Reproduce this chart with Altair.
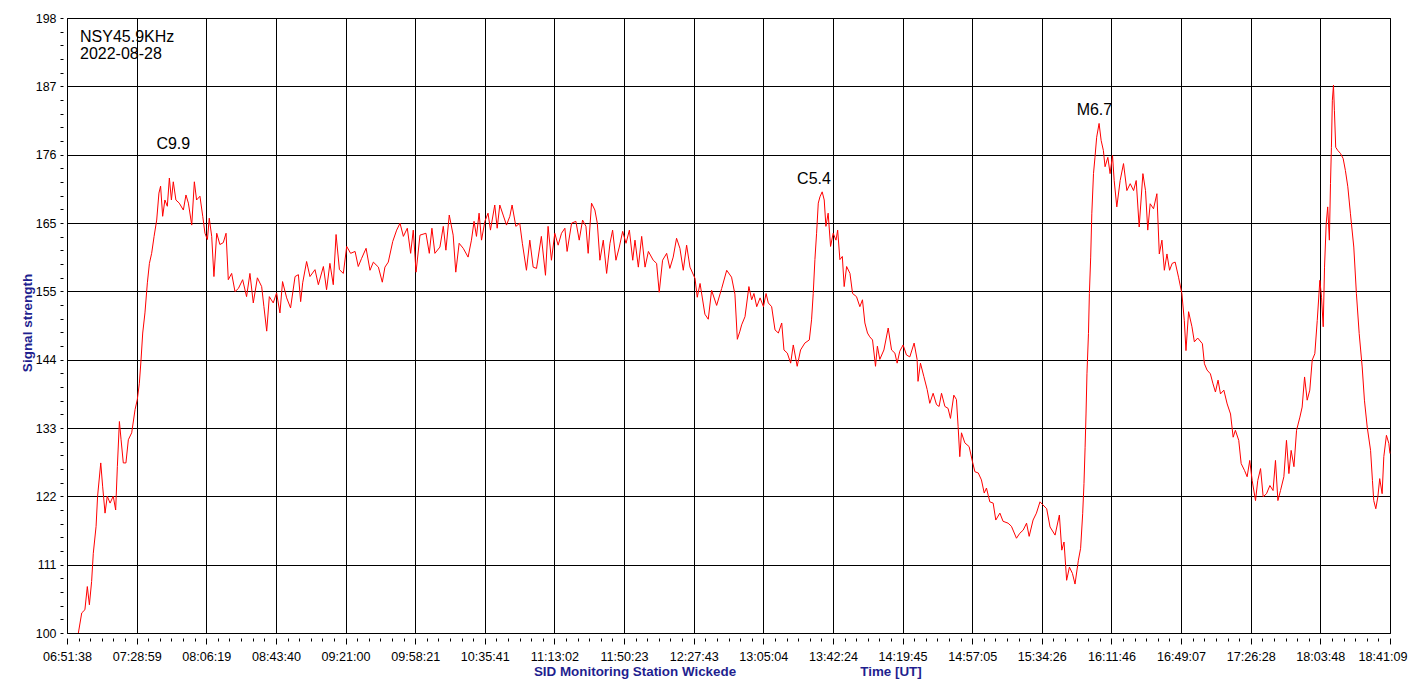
import json
import altair as alt
import pandas as pd

# ---------------- data ----------------
x_labels = ["06:51:38", "07:28:59", "08:06:19", "08:43:40", "09:21:00", "09:58:21",
            "10:35:41", "11:13:02", "11:50:23", "12:27:43", "13:05:04", "13:42:24",
            "14:19:45", "14:57:05", "15:34:26", "16:11:46", "16:49:07", "17:26:28",
            "18:03:48", "18:41:09"]
y_labels = ["100", "111", "122", "133", "144", "155", "165", "176", "187", "198"]
y_min, y_max = 100, 198

# minutes after 06:51:38 and signal strength
minutes = [
    6.1, 7.9, 9.6, 10.9, 12.0, 13.2, 14.1, 15.6, 16.4, 18.1, 19.1, 20.4, 21.6, 23.1, 24.8,
    26.1, 27.0, 28.1, 29.0, 30.2, 31.6, 32.9, 34.7, 36.5, 37.7, 38.8, 39.7, 40.6, 41.8,
    43.1, 44.2, 45.4, 46.7, 48.1, 49.3, 50.2, 51.3, 52.5, 53.8, 54.9, 56.0, 57.0, 58.4,
    60.2, 62.4, 63.8, 65.1, 66.9, 68.3, 69.5, 71.3, 72.8, 74.0, 75.3, 76.3, 77.6, 78.8,
    80.3, 82.0, 83.8, 85.3, 86.5, 88.3, 90.1, 91.9, 94.2, 96.3, 98.1, 99.9, 102.1, 104.4,
    105.6, 107.1, 108.5, 110.6, 112.4, 114.2, 115.6, 117.8, 119.9, 122.3, 124.1, 125.3,
    126.4, 128.5, 130.3, 133.0, 134.8, 137.5, 139.2, 141.0, 142.8, 144.3, 146.1, 148.2,
    150.0, 152.1, 154.5, 156.2,
    158.0, 160.4, 162.5, 164.3, 167.0, 169.1, 170.5, 172.3, 174.7, 176.8, 178.6, 180.4,
    182.5, 184.3, 185.7, 187.2, 189.3, 192.5, 194.3, 195.7, 197.3, 200.0, 201.8, 203.2,
    205.0, 207.1, 208.5, 210.3, 212.5, 215.1, 216.9, 218.3, 219.6, 221.0, 222.3, 224.1,
    225.8, 227.1, 229.4, 230.7, 232.1, 233.9, 235.7, 237.5, 238.7, 240.7, 242.8, 244.2,
    246.4, 248.2, 250.0, 251.8, 254.4, 256.6, 258.0, 259.8, 261.6, 263.4, 265.2, 267.0,
    268.2, 270.6, 272.9, 274.7, 276.5, 278.3, 279.5, 281.3, 283.1, 284.4, 285.8, 287.6,
    289.4, 291.2, 292.6, 294.4, 296.2, 298.0, 299.8, 301.6, 303.4, 304.6, 306.4, 308.2,
    310.0, 311.8, 314.4, 316.2, 317.6, 319.4, 321.6, 323.3, 325.1, 326.9, 328.7, 330.5,
    332.3, 334.1, 336.8, 338.0, 339.5, 342.1, 343.9, 345.7, 348.4, 351.1, 353.8, 356.4,
    358.2, 359.5, 360.9,
    361.8, 363.6, 365.7, 367.2, 368.4, 369.9, 371.7, 373.5, 374.9, 376.1, 377.9, 379.7,
    381.5, 383.3, 384.5, 386.3, 388.1, 389.5, 391.6, 393.4, 395.7, 398.1, 399.3, 400.2,
    401.1, 402.0, 402.9, 403.8, 405.0, 406.1, 407.0, 408.2, 409.5, 410.9, 412.4, 413.3,
    414.5, 415.8, 416.8, 418.1, 419.9, 421.3, 423.4, 425.2, 426.6, 427.9, 429.3, 430.5,
    432.0, 433.6, 434.6, 435.9, 438.1, 440.4, 442.2, 444.0, 445.2, 446.6, 448.4, 450.2,
    452.0, 454.3, 455.9, 456.4, 457.7, 459.5, 461.3, 462.7, 464.5, 466.3, 467.7, 469.0,
    470.8, 472.5, 473.8, 475.6, 477.0, 477.9, 478.8, 479.7, 481.5, 483.8, 485.6, 486.9,
    488.7, 490.4, 491.9, 493.1, 494.9, 496.7, 498.1, 500.3, 502.0, 504.7, 506.5, 509.2,
    511.0, 512.8, 514.6, 516.0, 518.1, 519.9,
    521.8, 525.4, 527.2, 529.9, 532.2, 533.5, 534.7, 536.1, 537.6, 539.2, 540.6, 542.4,
    543.6, 544.7, 545.4, 546.0, 546.5, 547.0, 547.8, 548.3, 549.0, 549.6, 550.5, 551.3,
    552.2, 553.5, 554.6, 555.8, 556.7, 558.2, 559.4, 560.7, 561.6, 563.0, 564.8, 566.6,
    568.4, 570.2, 572.0, 573.4, 575.0, 577.0, 578.4, 579.6, 580.9, 582.7, 584.5, 585.8,
    587.2, 588.5, 589.9, 591.3, 592.7, 594.3, 596.1, 597.9, 599.2, 600.1, 601.5, 603.3,
    604.6, 606.4, 608.9, 610.0, 611.4, 613.2, 614.6, 615.9, 617.3, 618.6, 620.4, 622.2,
    624.0, 625.4, 626.6, 628.4, 629.7, 631.5, 632.9, 634.3, 635.6, 637.4, 638.6, 640.1,
    641.5, 643.3, 645.1, 646.8, 648.1, 649.4, 650.8, 652.6, 654.0, 655.3, 656.5, 658.0,
    659.4, 661.2, 662.4, 663.7, 665.1, 666.5, 667.8, 669.2, 670.5, 671.9, 672.8, 673.7,
    674.4, 675.3, 676.1, 677.0, 677.6, 678.1, 678.6, 679.2, 679.7, 680.4, 681.5, 683.0,
    684.4, 685.6, 686.9, 688.3, 690.1, 691.5, 693.0, 694.6, 695.8, 697.3, 699.1, 700.1,
    700.8, 701.9, 703.0, 704.0, 705.3, 706.2, 707.6, 708.9, 709.5,
]
signal = [
    100.0, 103.2, 103.7, 107.4, 104.5, 108.2, 112.7, 117.0, 121.8, 127.1, 123.4, 119.1,
    121.8, 120.7, 121.8, 119.6, 126.5, 133.7, 130.8, 127.1, 127.1, 130.8, 131.9, 135.6,
    137.2, 139.8, 143.5, 147.8, 151.0, 155.8, 158.9, 160.5, 163.2, 165.8, 170.1, 171.2,
    166.4, 169.0, 168.0, 172.5, 169.0, 171.9, 169.0, 168.5, 167.4, 169.8, 168.5, 165.0,
    171.9, 169.0, 169.6, 166.4, 163.7, 162.7, 166.1, 163.2, 156.8, 163.7, 161.9, 162.2,
    163.7, 156.3, 157.3, 154.4, 154.9, 156.3, 153.6, 157.3, 152.6, 156.6, 155.2, 152.0,
    148.1, 153.6, 152.6, 154.2, 151.0, 156.0, 153.4, 151.8, 156.8, 157.1, 152.8, 155.8,
    159.2, 156.8, 157.9, 155.5, 158.4, 154.7, 158.9, 155.5, 163.5, 157.9, 157.3, 161.6,
    160.5, 160.8, 158.4,
    159.7, 161.3, 157.8, 159.1, 158.3, 155.9, 158.3, 159.1, 162.4, 164.2, 165.3, 163.2,
    164.5, 160.5, 164.2, 157.5, 163.4, 163.7, 160.5, 164.5, 160.5, 161.5, 164.8, 161.0,
    166.6, 163.4, 157.5, 162.1, 161.3, 159.9, 162.6, 165.6, 163.2, 166.9, 162.6, 165.6,
    166.9, 164.2, 168.2, 164.5, 168.2, 166.6, 165.0, 166.4, 168.2, 164.8, 165.3, 162.1,
    157.8, 162.6, 158.3, 158.1, 163.2, 157.0, 164.8, 159.4, 163.7, 161.8, 163.7, 164.5,
    160.8, 165.3, 165.6, 162.6, 165.8, 164.8, 160.5, 168.5, 167.4, 165.3, 159.4, 162.6,
    157.3, 162.1, 164.2, 159.4, 161.5, 164.0, 162.1, 164.2, 159.4, 162.6, 158.3, 163.2,
    158.3, 160.8, 159.4, 158.9, 154.3, 159.4, 160.5, 158.1, 159.9, 162.9, 161.3, 157.8,
    161.8, 158.3, 156.5, 153.5, 155.7, 150.8, 150.0, 154.6, 152.2, 154.9, 157.8, 156.7,
    154.0, 146.8, 148.1,
    149.1, 150.4, 155.2, 153.1, 154.1, 152.0, 153.4, 152.0, 154.1, 152.6, 152.0, 148.3,
    147.8, 149.4, 145.1, 144.6, 143.0, 145.9, 142.5, 145.1, 146.2, 146.7, 149.9, 154.1,
    159.5, 163.7, 168.5, 169.5, 170.3, 169.0, 164.8, 166.9, 161.6, 163.7, 162.6, 164.2,
    159.5, 160.0, 155.2, 158.4, 157.3, 154.1, 153.6, 152.0, 153.1, 149.4, 147.8, 147.2,
    146.7, 142.5, 145.7, 143.6, 145.1, 148.6, 145.1, 144.6, 143.0, 144.9, 145.9, 144.3,
    144.0, 146.2, 143.6, 140.1, 143.0, 140.9, 138.8, 136.6, 138.2, 136.4, 136.1, 138.2,
    136.1, 135.8, 134.2, 137.9, 137.2, 132.9, 128.1, 131.9, 130.3, 129.7, 127.3, 125.7,
    125.5, 124.4, 122.3, 123.1, 120.9, 120.7, 118.0, 119.1, 117.8, 117.5, 117.0, 115.1,
    115.9, 116.4, 117.5, 115.4, 118.0, 119.1,
    120.9, 119.8, 116.9, 115.6, 118.8, 113.2, 114.5, 108.4, 110.5, 109.5, 107.8, 111.6,
    113.5, 119.0, 123.8, 129.6, 134.9, 141.3, 147.7, 154.1, 159.9, 166.8, 173.2, 175.8,
    179.0, 181.2, 178.5, 176.9, 174.3, 175.8, 173.2, 176.1, 172.1, 167.9, 172.1, 174.8,
    170.5, 171.6, 170.5, 172.1, 164.7, 173.2, 170.5, 164.2, 168.4, 167.6, 170.0, 160.4,
    162.6, 157.8, 160.4, 157.8, 158.9, 159.1, 156.7, 154.1, 149.8, 145.0, 151.2, 148.8,
    146.4, 147.0, 146.1, 142.9, 141.9, 141.3, 139.7, 138.4, 140.3, 138.1, 138.7, 136.5,
    134.9, 131.2, 132.3, 130.7, 127.0, 125.9, 124.9, 127.5, 124.3, 121.1, 124.3, 126.2,
    121.7, 122.2, 123.5, 122.7, 127.5, 121.1, 122.7, 124.9, 130.7, 125.4, 129.1, 126.5,
    132.3, 134.4, 136.0, 140.8, 137.1, 138.7, 143.5, 144.5, 149.8, 156.2, 153.5, 148.8,
    158.3, 165.2, 167.9, 162.6, 171.6, 177.4, 184.9, 187.3, 183.3, 177.4, 176.9, 176.4,
    175.6, 173.7, 171.1, 166.8, 161.5, 154.1, 147.7, 142.4, 137.1, 132.8, 129.1, 124.3,
    121.1, 119.8, 121.7, 124.6, 122.2, 128.1, 131.5, 130.2, 128.6,
]

flare_labels = ["C9.9", "C5.4", "M6.7"]
flare_minutes = [57.0, 400.6, 551.0]
flare_signal = [177.1, 171.55, 182.5]

header_lines = ["NSY45.9KHz", "2022-08-28"]
y_title = "Signal strength"
x_title_left = "SID Monitoring Station Wickede"
x_title_right = "Time [UT]"

# ---------------- ticks ----------------
def to_min(s):
    h, m, sec = map(int, s.split(":"))
    return h * 60 + m + sec / 60.0

t0 = to_min(x_labels[0])
x_major = [to_min(s) - t0 for s in x_labels]
x_ticks = []
for a, b in zip(x_major[:-1], x_major[1:]):
    for k in range(6):
        x_ticks.append(a + (b - a) * k / 6.0)
x_ticks.append(x_major[-1] - 1e-6)
x_step = x_major[-1] / (len(x_labels) - 1)

y_step = (y_max - y_min) / (len(y_labels) - 1)
y_ticks = [y_min + y_step * k / 5.0 for k in range(5 * (len(y_labels) - 1) + 1)]
y_ticks[-1] = y_max - 1e-6

x_major_test = f"round(datum.value / {x_step} * 6) % 6 == 0"
x_last_test = f"datum.value > {x_major[-1] - x_step / 12}"
x_label_expr = f"({x_major_test}) ? {json.dumps(x_labels)}[round(datum.value / {x_step})] : ''"
y_major_test = f"round((datum.value - {y_min}) / {y_step} * 5) % 5 == 0"
y_label_expr = f"({y_major_test}) ? {json.dumps(y_labels)}[round((datum.value - {y_min}) / {y_step})] : ''"

FONT = "Liberation Sans"
NAVY = "#1f1f8f"

df = pd.DataFrame({"t": minutes, "v": signal})

x_scale = alt.Scale(domain=[0, x_major[-1]], nice=False, zero=False)
y_scale = alt.Scale(domain=[y_min, y_max], nice=False, zero=False)

x_axis = alt.Axis(
    values=x_ticks, tickCount=500, labelExpr=x_label_expr, title=None,
    domain=False, offset=5, tickSize=6, tickColor="black", tickWidth=1,
    tickDash={"condition": {"test": x_major_test, "value": []}, "value": [3, 20]},
    grid=True, gridColor="black", gridWidth=1,
    gridOpacity={"condition": {"test": x_major_test, "value": 1}, "value": 0},
    labelFont=FONT, labelFontSize=12.6, labelColor="black", labelPadding=6,
    labelAlign={"condition": {"test": x_last_test, "value": "right"}, "value": "center"},
    labelOffset={"condition": {"test": x_last_test, "value": 17}, "value": 0},
    labelFlush=False, labelOverlap=False, labelBound=False,
)
y_axis = alt.Axis(
    values=y_ticks, tickCount=500, labelExpr=y_label_expr, title=None,
    domain=False, offset=4, tickSize=3, tickColor="black", tickWidth=1,
    grid=True, gridColor="black", gridWidth=1,
    gridOpacity={"condition": {"test": y_major_test, "value": 1}, "value": 0},
    labelFont=FONT, labelFontSize=12.4, labelColor="black", labelPadding=4,
    labelFlush=False, labelOverlap=False, labelBound=False,
)

line = alt.Chart(df).mark_line(color="#ff0000", strokeWidth=1).encode(
    x=alt.X("t:Q", scale=x_scale, axis=x_axis),
    y=alt.Y("v:Q", scale=y_scale, axis=y_axis),
)

flares = alt.Chart(pd.DataFrame({"label": flare_labels, "t": flare_minutes, "v": flare_signal})).mark_text(
    font=FONT, fontSize=16, color="black", align="center", baseline="alphabetic"
).encode(
    x=alt.X("t:Q", scale=x_scale),
    y=alt.Y("v:Q", scale=y_scale),
    text="label:N",
)

header = alt.Chart(pd.DataFrame({"txt": ["\n".join(header_lines)]})).mark_text(
    font=FONT, fontSize=16, color="black", align="left", baseline="alphabetic",
    lineBreak="\n", lineHeight=17.6,
).encode(x=alt.value(13), y=alt.value(23.7), text="txt:N")

ytitle = alt.Chart(pd.DataFrame({"txt": [y_title]})).mark_text(
    font=FONT, fontSize=13.5, fontWeight="bold", color=NAVY, align="center",
    baseline="middle", angle=270,
).encode(x=alt.value(-39.5), y=alt.value(305), text="txt:N")

xtitle1 = alt.Chart(pd.DataFrame({"txt": [x_title_left]})).mark_text(
    font=FONT, fontSize=13.4, fontWeight="bold", color=NAVY, align="center", baseline="alphabetic",
).encode(x=alt.value(568), y=alt.value(658), text="txt:N")

xtitle2 = alt.Chart(pd.DataFrame({"txt": [x_title_right]})).mark_text(
    font=FONT, fontSize=13.4, fontWeight="bold", color=NAVY, align="center", baseline="alphabetic",
).encode(x=alt.value(824), y=alt.value(658), text="txt:N")

chart = alt.layer(line, flares, header, ytitle, xtitle1, xtitle2).properties(
    width=1323, height=615,
    padding={"left": 59, "top": 10, "right": 19, "bottom": 48},
    autosize=alt.AutoSizeParams(type="none"),
    background="white",
).configure_view(stroke="black", strokeWidth=1)

chart.save("out.html", embed_options={"renderer": "svg", "actions": False})
